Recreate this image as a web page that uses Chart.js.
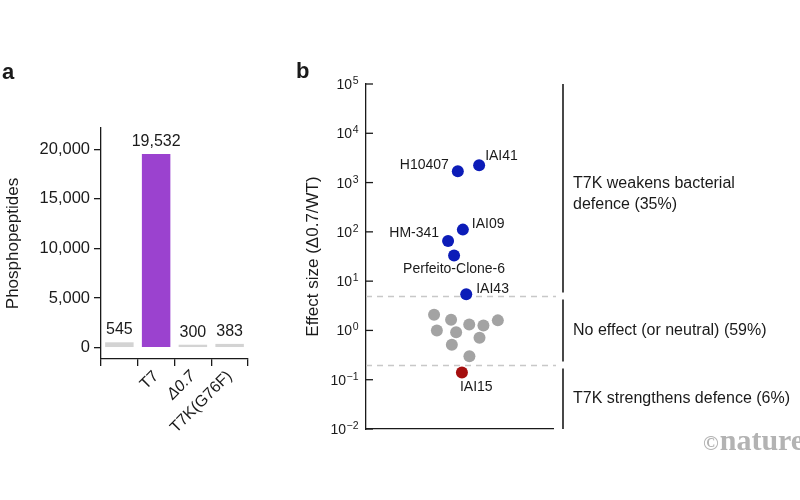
<!DOCTYPE html>
<html lang="en">
<head>
  <meta charset="UTF-8">
  <title>T7K phosphopeptides and effect size</title>
  <script src="https://cdn.jsdelivr.net/npm/chart.js"></script>
  <style>
    body { margin: 0; width: 800px; height: 500px; position: relative; overflow: hidden; background: #fff;
           font-family: "Liberation Sans", Arial, sans-serif; color: #1a1a1a; }
    .panel { position: absolute; top: 0; height: 500px; }
    #panelA { left: 0; width: 280px; }
    #panelB { left: 290px; width: 510px; }
    .tag { position: absolute; font-weight: bold; font-size: 22px; line-height: 22px; }
    .mark { position: absolute; left: 703px; top: 425px; font-family: "Liberation Serif", "DejaVu Serif", serif;
            font-weight: bold; font-size: 30px; line-height: 30px; color: #b3b3b3; white-space: nowrap; }
    .mark span { font-size: 21px; margin-right: 1px; }
  </style>
</head>
<body>
  <div class="panel" id="panelA"><canvas id="chartA"></canvas></div>
  <div class="panel" id="panelB"><canvas id="chartB"></canvas></div>
  <div class="tag" style="left:2px; top:61px;">a</div>
  <div class="tag" style="left:296px; top:60px;">b</div>
  <div class="mark"><span>©</span>nature</div>

  <script>
    // panel a
    var categories = ['', 'T7', 'Δ0.7', 'T7K(G76F)'];
    var phosphopeptides = [545, 19532, 300, 383];
    var phosphoTicks = [0, 5000, 10000, 15000, 20000];

    // panel b, effect size per strain
    var weakensNames = ['H10407', 'IAI41', 'IAI09', 'HM-341', 'Perfeito-Clone-6', 'IAI43'];
    var weakensX = [49.1, 60.5, 51.8, 43.9, 47.1, 53.6];
    var weakensY = [1700, 2250, 111, 65, 33, 5.4];
    var neutralX = [36.4, 37.9, 45.5, 48.2, 45.9, 55.2, 62.8, 60.7, 70.5, 55.3];
    var neutralY = [2.08, 1.0, 1.65, 0.92, 0.51, 1.32, 1.26, 0.71, 1.6, 0.30];
    var strengthensNames = ['IAI15'];
    var strengthensX = [51.3];
    var strengthensY = [0.14];
    var effectTicks = [1e-2, 1e-1, 1, 10, 100, 1e3, 1e4, 1e5];
    var thresholds = [0.2, 5];
    var groupTexts = [
      ['T7K strengthens defence (6%)'],
      ['No effect (or neutral) (59%)'],
      ['T7K weakens bacterial', 'defence (35%)']
    ];

    var FONT = '"Liberation Sans", Arial, sans-serif';
    var INK = '#1a1a1a';

    function toPoints(xs, ys) {
      return xs.map(function (x, i) { return { x: x, y: ys[i] }; });
    }

    // number above each bar
    var barValueLabels = {
      id: 'barValueLabels',
      afterDatasetsDraw: function (chart) {
        var ctx = chart.ctx;
        ctx.save();
        ctx.font = '16px ' + FONT;
        ctx.fillStyle = INK;
        ctx.textAlign = 'center';
        chart.getDatasetMeta(0).data.forEach(function (bar, i) {
          ctx.fillText(phosphopeptides[i].toLocaleString('en-US'), bar.x, bar.y - 8);
        });
        ctx.restore();
      }
    };

    new Chart(document.getElementById('chartA'), {
      type: 'bar',
      data: {
        labels: categories,
        datasets: [{
          data: phosphopeptides,
          backgroundColor: ['#d3d3d3', '#9b42cf', '#d3d3d3', '#d3d3d3'],
          barPercentage: 0.775,
          categoryPercentage: 1
        }]
      },
      options: {
        responsive: true,
        maintainAspectRatio: false,
        animation: false,
        layout: { padding: { top: 128, right: 32, left: 0, bottom: 0 } },
        plugins: { legend: { display: false }, tooltip: { enabled: false } },
        scales: {
          x: {
            grid: { display: true, drawOnChartArea: false, tickLength: 7, color: INK, lineWidth: 1.3 },
            border: { display: true, color: INK, width: 1.3 },
            ticks: {
              color: INK, maxRotation: 45, minRotation: 45, padding: 1, autoSkip: false,
              font: function (c) { return { family: FONT, size: 16, style: c.index === 2 ? 'italic' : 'normal' }; }
            },
            afterFit: function (s) { s.height = 141; }
          },
          y: {
            min: -1140,
            max: 22150,
            afterBuildTicks: function (s) { s.ticks = phosphoTicks.map(function (v) { return { value: v }; }); },
            grid: { display: true, drawOnChartArea: false, tickLength: 7, color: INK, lineWidth: 1.3 },
            border: { display: true, color: INK, width: 1.3 },
            ticks: {
              color: INK, padding: 4, font: { family: FONT, size: 16.5 },
              callback: function (v) { return v.toLocaleString('en-US'); }
            },
            title: { display: true, text: 'Phosphopeptides', color: INK, font: { family: FONT, size: 17 }, padding: { top: 3, bottom: 0 } },
            afterFit: function (s) { s.width = 101; }
          }
        }
      },
      plugins: [barValueLabels]
    });

    // where each strain name sits next to its dot
    var labelPlacement = {
      'H10407': { align: 'right', dx: -9, dy: -6 },
      'IAI41': { align: 'left', dx: 6, dy: -9 },
      'IAI09': { align: 'left', dx: 9, dy: -5 },
      'HM-341': { align: 'right', dx: -9, dy: -8 },
      'Perfeito-Clone-6': { align: 'center', dx: 0, dy: 14 },
      'IAI43': { align: 'left', dx: 10, dy: -5 },
      'IAI15': { align: 'left', dx: -2, dy: 15 }
    };

    var effectDecor = {
      id: 'effectDecor',
      beforeDatasetsDraw: function (chart) {
        var ctx = chart.ctx, area = chart.chartArea, y = chart.scales.y;
        ctx.save();
        ctx.strokeStyle = '#c8c8c8';
        ctx.lineWidth = 1.3;
        ctx.setLineDash([6, 5]);
        thresholds.forEach(function (t) {
          var py = Math.round(y.getPixelForValue(t)) + 0.5;
          ctx.beginPath();
          ctx.moveTo(area.left, py);
          ctx.lineTo(area.right + 3, py);
          ctx.stroke();
        });
        ctx.restore();
      },
      afterDraw: function (chart) {
        var ctx = chart.ctx, area = chart.chartArea, y = chart.scales.y;
        ctx.save();
        // inward ticks with power-of-ten labels
        ctx.strokeStyle = INK;
        ctx.fillStyle = INK;
        ctx.lineWidth = 1.3;
        ctx.textAlign = 'right';
        ctx.textBaseline = 'alphabetic';
        y.ticks.forEach(function (t) {
          var py = y.getPixelForValue(t.value);
          ctx.beginPath();
          ctx.moveTo(area.left, py);
          ctx.lineTo(area.left + 7, py);
          ctx.stroke();
          var exp = String(Math.round(Math.log10(t.value))).replace('-', '\u2212');
          var ex = area.left - 7.5;
          ctx.font = '10.5px ' + FONT;
          ctx.fillText(exp, ex, py);
          var ew = ctx.measureText(exp).width;
          ctx.font = '14px ' + FONT;
          ctx.fillText('10', ex - ew - 0.5, py + 5);
        });

        // strain names
        ctx.font = '14px ' + FONT;
        ctx.textBaseline = 'middle';
        chart.data.datasets.forEach(function (ds, di) {
          if (!ds.names) return;
          chart.getDatasetMeta(di).data.forEach(function (pt, i) {
            var p = labelPlacement[ds.names[i]];
            ctx.textAlign = p.align;
            ctx.fillText(ds.names[i], pt.x + p.dx, pt.y + p.dy);
          });
        });

        // brackets and group descriptions
        var bounds = [y.min].concat(thresholds, [y.max]);
        var bx = area.right + 10;
        ctx.lineWidth = 1.6;
        ctx.font = '16px ' + FONT;
        ctx.textAlign = 'left';
        for (var g = 0; g < bounds.length - 1; g++) {
          var yLow = y.getPixelForValue(bounds[g]) - (g > 0 ? 3.5 : 0);
          var yHigh = y.getPixelForValue(bounds[g + 1]) + (g < bounds.length - 2 ? 3.5 : 0);
          ctx.beginPath();
          ctx.moveTo(bx, yLow);
          ctx.lineTo(bx, yHigh);
          ctx.stroke();
          var lines = groupTexts[g];
          var mid = (yLow + yHigh) / 2 + (lines.length > 1 ? 6 : 0);
          lines.forEach(function (line, k) {
            ctx.fillText(line, bx + 10, mid + (k - (lines.length - 1) / 2) * 21.7);
          });
        }
        ctx.restore();
      }
    };

    new Chart(document.getElementById('chartB'), {
      type: 'scatter',
      data: {
        datasets: [
          { data: toPoints(neutralX, neutralY), backgroundColor: '#a3a3a3' },
          { data: toPoints(weakensX, weakensY), names: weakensNames, backgroundColor: '#0c1cb8' },
          { data: toPoints(strengthensX, strengthensY), names: strengthensNames, backgroundColor: '#a50f0f' }
        ]
      },
      options: {
        responsive: true,
        maintainAspectRatio: false,
        animation: false,
        elements: { point: { radius: 6, borderWidth: 0 } },
        layout: { padding: { top: 84, right: 247, left: 0, bottom: 0 } },
        plugins: { legend: { display: false }, tooltip: { enabled: false } },
        scales: {
          x: {
            type: 'linear', min: 0, max: 100,
            grid: { display: false },
            border: { display: true, color: INK, width: 1.3 },
            ticks: { display: false },
            afterFit: function (s) { s.height = 71; }
          },
          y: {
            type: 'logarithmic', min: 1e-2, max: 1e5,
            afterBuildTicks: function (s) { s.ticks = effectTicks.map(function (v) { return { value: v }; }); },
            grid: { display: false, drawTicks: false },
            border: { display: true, color: INK, width: 1.3 },
            ticks: { display: false },
            title: { display: true, text: 'Effect size (Δ0.7/WT)', color: INK, font: { family: FONT, size: 17 }, padding: { top: 13, bottom: 0 } },
            afterFit: function (s) { s.width = 76; }
          }
        }
      },
      plugins: [effectDecor]
    });
  </script>
</body>
</html>
